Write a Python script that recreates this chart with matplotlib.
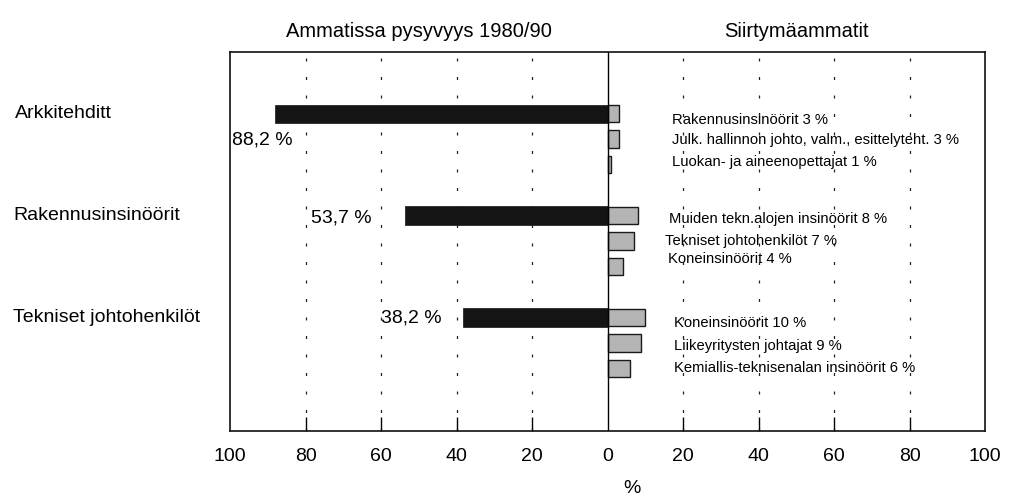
import matplotlib
matplotlib.use("Agg")
import matplotlib.pyplot as plt

plt.rcParams['font.family'] = ['Liberation Sans', 'DejaVu Sans']

# ---- data ----
categories = ["Arkkitehditt", "Rakennusinsinöörit", "Tekniset johtohenkilöt"]
stay_pct = [88.2, 53.7, 38.2]
stay_labels = ["88,2 %", "53,7 %", "38,2 %"]

trans_names_1 = ["Rakennusinsinöörit", "Julk. hallinnon johto, valm., esittelyteht.", "Luokan- ja aineenopettajat"]
trans_vals_1 = [3, 3, 1]
trans_names_2 = ["Muiden tekn.alojen insinöörit", "Tekniset johtohenkilöt", "Koneinsinöörit"]
trans_vals_2 = [8, 7, 4]
trans_names_3 = ["Koneinsinöörit", "Liikeyritysten johtajat", "Kemiallis-teknisenalan insinöörit"]
trans_vals_3 = [10, 9, 6]

xticks = [-100, -80, -60, -40, -20, 0, 20, 40, 60, 80, 100]
title_left = "Ammatissa pysyvyys 1980/90"
title_right = "Siirtymäammatit"
xlabel = "%"

trans_names = [trans_names_1, trans_names_2, trans_names_3]
trans_vals = [trans_vals_1, trans_vals_2, trans_vals_3]

# ---- layout ----
W, H = 1017, 498
fig = plt.figure(figsize=(W / 100, H / 100), dpi=100)
ax = fig.add_axes([230 / W, 67 / H, 755 / W, 379 / H])
ax.set_xlim(-100, 100)
ax.set_ylim(12.45, -2.42)

group_gap = 4
bar_h = 0.72

# dotted grid lines
for xv in [-80, -60, -40, -20, 20, 40, 60, 80]:
    ax.axvline(xv, color='#222222', lw=0.9, dashes=(2.4, 12.4), zorder=0,
               dash_capstyle='butt')
ax.axvline(0, color='black', lw=1.0, zorder=3)

# label layout (data units)
stay_label_xy = [(-83.5, 1.04), (-62.5, 0.08), (-44.0, 0.0)]
trans_label_x = [[17.0, 17.0, 17.0], [16.4, 15.3, 16.1], [17.5, 17.5, 17.5]]
trans_label_dy = [[0.25, 1.04, 1.9], [0.12, 0.98, 1.69], [0.2, 1.1, 1.96]]
cat_label_x = [-157.0, -157.5, -157.5]

for i, (cat, v, lab) in enumerate(zip(categories, stay_pct, stay_labels)):
    y0 = i * group_gap
    ax.barh(y0, -v, height=bar_h, color='#141414', edgecolor='#141414',
            lw=0.5, zorder=2)
    lx, ldy = stay_label_xy[i]
    ax.text(lx, y0 + ldy, lab, ha='right', va='center', fontsize=14,
            zorder=4)
    ax.text(cat_label_x[i], y0, cat, ha='left', va='center', fontsize=14,
            clip_on=False)
    for j, (nm, tv) in enumerate(zip(trans_names[i], trans_vals[i])):
        ax.barh(y0 + j, tv, height=bar_h * 0.95, color='#b4b4b4',
                edgecolor='#1a1a1a', lw=1.0, zorder=2)
        ax.text(trans_label_x[i][j], y0 + trans_label_dy[i][j],
                f"{nm} {tv} %", ha='left', va='center', fontsize=10.6,
                zorder=4)

# ticks
ax.set_xticks(xticks)
ax.set_xticklabels([str(abs(t)) for t in xticks], fontsize=14)
ax.tick_params(axis='x', direction='in', length=10, width=1.0, pad=12,
               colors='black')
for t, tl in zip(ax.xaxis.get_major_ticks(), xticks):
    if tl in (-100, 0, 100):
        t.tick1line.set_visible(False)
    t.tick2line.set_visible(False)
ax.set_yticks([])

for sp in ax.spines.values():
    sp.set_linewidth(1.2)
    sp.set_color('#111111')

# titles
ax.text(-50, 1.055, title_left, transform=ax.get_xaxis_transform(),
        ha='center', va='center', fontsize=14.5)
ax.text(50, 1.055, title_right, transform=ax.get_xaxis_transform(),
        ha='center', va='center', fontsize=14.5)

fig.text(632 / W, 1 - 488 / H, xlabel, ha='center', va='center', fontsize=14)

fig.savefig("out.png", dpi=100)
